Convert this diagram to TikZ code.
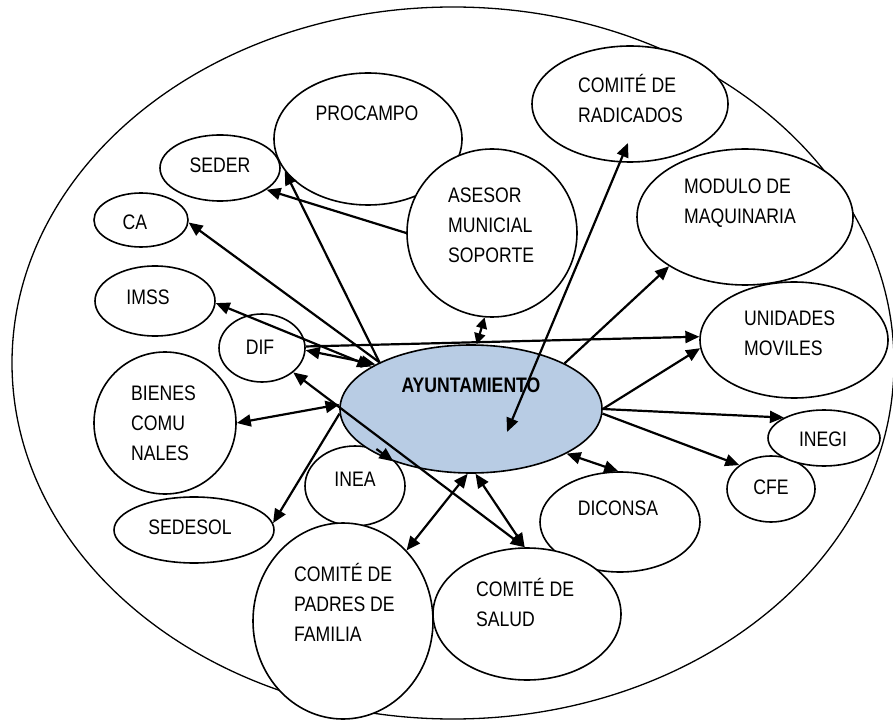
\documentclass[tikz,border=0pt]{standalone}
\usepackage{fontspec}
\setmainfont{Liberation Sans}[FakeStretch=0.84]
\usetikzlibrary{shapes.geometric,arrows.meta}
\definecolor{ayuntblue}{HTML}{B8CCE4}

\begin{document}
\begin{tikzpicture}[->,>={Triangle[length=7pt,width=6pt]},x=0.5pt,y=-0.5pt,line width=1.1pt,
		org/.style={draw,ellipse,fill=white,line width=0.8pt,inner sep=0pt},
		lbl/.style={inner sep=0pt,align=left,font=\fontsize{10.5}{15}\selectfont}]
		\useasboundingbox (0,0) rectangle (893,721);
		\node[org,line width=0.65pt,minimum width=441pt,minimum height=356pt] (borde) at (453,363) {};
		\node[org,minimum width=94pt,minimum height=66pt] (procampo) at (368,139) {};
		\node[org,minimum width=60pt,minimum height=33pt] (seder) at (220,168) {};
		\node[org,minimum width=47pt,minimum height=27pt] (ca) at (141,220) {};
		\node[org,minimum width=60pt,minimum height=35pt] (imss) at (155,301) {};
		\node[org,minimum width=43pt,minimum height=34pt] (dif) at (262,348) {};
		\node[org,minimum width=71pt,minimum height=71pt] (bienes) at (165,423) {};
		\node[org,minimum width=80pt,minimum height=33pt] (sedesol) at (194,530) {};
		\node[org,minimum width=50pt,minimum height=40pt] (inea) at (355,486) {};
		\node[org,minimum width=80pt,minimum height=50pt] (diconsa) at (620,522) {};
		\node[org,minimum width=94pt,minimum height=66pt] (salud) at (527,614) {};
		\node[org,minimum width=90pt,minimum height=98pt] (padres) at (343,621) {};
		\node[org,minimum width=44pt,minimum height=33pt] (cfe) at (771,489) {};
		\node[org,minimum width=56pt,minimum height=28pt] (inegi) at (824,438) {};
		\node[org,minimum width=94pt,minimum height=58pt] (unidades) at (794,340) {};
		\node[org,minimum width=108pt,minimum height=68pt] (modulo) at (745,217) {};
		\node[org,minimum width=98pt,minimum height=58pt] (radicados) at (630,104) {};
		\node[org,minimum width=85pt,minimum height=84pt] (asesor) at (492,233) {};
		\node[org,fill=ayuntblue,minimum width=131pt,minimum height=64pt] (ayunt) at (471,409) {};
		\node[lbl] (tprocampo) at (367,113) {PROCAMPO};
		\node[lbl] (tseder) at (220,165) {SEDER};
		\node[lbl] (tca) at (135,222) {CA};
		\node[lbl] (timss) at (148,297) {IMSS};
		\node[lbl] (tdif) at (260,347) {DIF};
		\node[lbl,anchor=west] (tbienes) at (130,423) {BIENES\\COMU\\NALES};
		\node[lbl] (tsedesol) at (190,527) {SEDESOL};
		\node[lbl] (tinea) at (355,479) {INEA};
		\node[lbl,anchor=west] (tpadres) at (293,602) {COMITÉ DE\\PADRES DE\\FAMILIA};
		\node[lbl,anchor=west] (tsalud) at (475,602) {COMITÉ DE\\SALUD};
		\node[lbl] (tdiconsa) at (618,508) {DICONSA};
		\node[lbl] (tcfe) at (771,487) {CFE};
		\node[lbl] (tinegi) at (823,439) {INEGI};
		\node[lbl,anchor=west] (tunidades) at (743,333) {UNIDADES\\MOVILES};
		\node[lbl,anchor=west] (tmodulo) at (683,203) {MODULO DE\\MAQUINARIA};
		\node[lbl,anchor=west] (tradicados) at (577,99) {COMITÉ DE\\RADICADOS};
		\node[lbl,anchor=west] (tasesor) at (447,225) {ASESOR\\MUNICIAL\\SOPORTE};
		\node[lbl,font=\fontsize{10.5}{15}\selectfont\bfseries] (tayunt) at (471,385) {AYUNTAMIENTO};
		\coordinate (radin) at (628,143);
		\coordinate (radout) at (507,432);
		\draw (ayunt.153) to (procampo.201);
		\draw (asesor.180) to (seder.-25);
		\draw (ayunt.153) to (ca.-3);
		\draw[<->] (imss.-2) to (ayunt.157);
		\draw[<->] (dif.-3) to (ayunt.155);
		\draw (dif.2) to (unidades.178);
		\draw[<->,>={Triangle[length=5.5pt,width=5.5pt]}] (asesor.265) to (ayunt.85);
		\draw[<->] (radin) to (radout);
		\draw (ayunt.26) to (modulo.213);
		\draw (ayunt.0) to (unidades.185);
		\draw (ayunt.0) to (inegi.153);
		\draw (ayunt.-2) to (cfe.143);
		\draw[<->] (ayunt.-25) to (diconsa.92);
		\draw[<->] (ayunt.-86) to (salud.92);
		\draw[<->] (dif.-38) to (salud.92);
		\draw[<->] (ayunt.-93) to (padres.48);
		\draw[<->] (bienes.0) to (ayunt.178);
		\draw (ayunt.182) to (sedesol.5);
		\draw (inea.60) to (ayunt.-146);
	\end{tikzpicture}
\end{document}
